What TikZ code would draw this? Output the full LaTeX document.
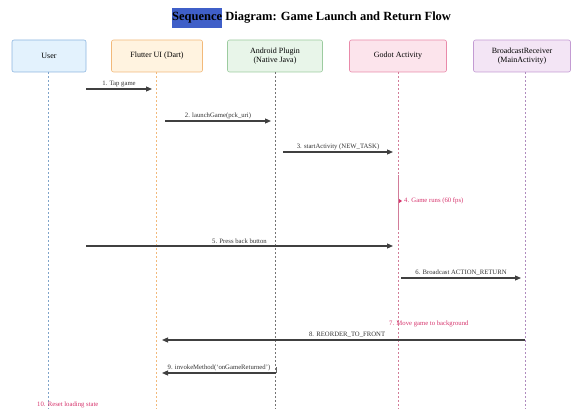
\documentclass[tikz,border=0pt]{standalone}
\usepackage{fontspec}
\setmainfont{Liberation Serif}
\usetikzlibrary{arrows.meta}
\definecolor{ublue}{HTML}{E3F2FD}\definecolor{ubluedk}{HTML}{8DB6E0}
\definecolor{forg}{HTML}{FFF3E0}\definecolor{forgdk}{HTML}{F2B97A}
\definecolor{agrn}{HTML}{E8F5E9}\definecolor{agrndk}{HTML}{9CCB9F}
\definecolor{gpnk}{HTML}{FCE4EC}\definecolor{gpnkdk}{HTML}{E98AAA}
\definecolor{bpur}{HTML}{F3E5F5}\definecolor{bpurdk}{HTML}{C39BD3}
\definecolor{notec}{HTML}{D6336C}
\definecolor{hl}{HTML}{3F5FC8}
\tikzset{
  part/.style={draw, rounded corners=2pt, line width=0.6pt, minimum height=32, align=center, font=\fontsize{8}{9.5}\selectfont, inner sep=1pt},
  life/.style={dashed, line width=0.8pt, dash pattern=on 2pt off 2pt},
  msg/.style={line width=1.1pt, draw=black!75, -{Triangle[length=6pt,width=5pt]}},
  lbl/.style={font=\fontsize{6.7}{7.5}\selectfont, text=black!80, inner sep=1pt},
  notet/.style={font=\fontsize{6.7}{7.5}\selectfont, text=notec, inner sep=1pt, anchor=west}
}
\begin{document}
\begin{tikzpicture}[x=1pt,y=-1pt]
\useasboundingbox (0,0) rectangle (576,409);
% title
\node[font=\bfseries\fontsize{12.5}{14}\selectfont, anchor=west, inner sep=0pt] (title) at (172,18)
  {\colorbox{hl}{\hspace{-3pt}\strut Sequence\hspace{-3pt}} Diagram: Game Launch and Return Flow};
% participants
\node[part, fill=ublue, draw=ubluedk, minimum width=74] (user) at (49,56) {User};
\node[part, fill=forg, draw=forgdk, minimum width=91] (flutter) at (157,56) {Flutter UI (Dart)};
\node[part, fill=agrn, draw=agrndk, minimum width=95] (android) at (275,56) {Android Plugin\\(Native Java)};
\node[part, fill=gpnk, draw=gpnkdk, minimum width=97] (godot) at (398,56) {Godot Activity};
\node[part, fill=bpur, draw=bpurdk, minimum width=97] (br) at (522,56) {BroadcastReceiver\\(MainActivity)};
% lifeline ends
\coordinate (userE) at (48,409);
\coordinate (flutterE) at (156,409);
\coordinate (androidE) at (275,409);
\coordinate (godotE) at (398,409);
\coordinate (brE) at (525,409);
\draw[life, draw=ubluedk!90!black] (user.south -| userE) -- (userE);
\draw[life, draw=forgdk] (flutter.south -| flutterE) -- (flutterE);
\draw[life, draw=black!55] (android.south -| androidE) -- (androidE);
\draw[life, draw=gpnkdk!90!black] (godot.south -| godotE) -- (godotE);
\draw[line width=0.8pt, draw=gpnkdk!90!black] (398,175) -- (398,228);
\draw[life, draw=bpurdk!90!black] (br.south -| brE) -- (brE);
% message endpoints
\coordinate (m1a) at (86,89);   \coordinate (m1b) at (152,89);
\coordinate (m2a) at (165,121); \coordinate (m2b) at (271,121);
\coordinate (m3a) at (283,152); \coordinate (m3b) at (393,152);
\coordinate (m5a) at (86,246);  \coordinate (m5b) at (393,246);
\coordinate (m6a) at (401,278); \coordinate (m6b) at (521,278);
\coordinate (m8a) at (525,340); \coordinate (m8b) at (162,340);
\coordinate (m9a) at (276,373); \coordinate (m9b) at (162,373);
\draw[msg] (m1a) -- node[lbl, above=1pt] (l1) {1. Tap game} (m1b);
\draw[msg] (m2a) -- node[lbl, above=1pt] (l2) {2. launchGame(pck\_uri)} (m2b);
\draw[msg] (m3a) -- node[lbl, above=1pt] (l3) {3. startActivity (NEW\_TASK)} (m3b);
\draw[msg] (m5a) -- node[lbl, above=1pt] (l5) {5. Press back button} (m5b);
\draw[msg] (m6a) -- node[lbl, above=1pt] (l6) {6. Broadcast ACTION\_RETURN} (m6b);
\draw[msg] (m8a) -- node[lbl, above=1pt, pos=0.49] (l8) {8. REORDER\_TO\_FRONT} (m8b);
\draw[msg] (m9a) -- node[lbl, above=1pt] (l9) {9. invokeMethod(`onGameReturned')} (m9b);
\draw[line width=0.8pt, draw=black!60] (m9a) -- ++(0,-6);
% notes
\coordinate (n4) at (399,201);
\coordinate (n7) at (388,324);
\coordinate (n10) at (36,405);
\fill[notec] (n4) ++(0,-2) -- ++(3,2) -- ++(-3,2) -- cycle;
\node[notet] (t4) at ([xshift=4pt]n4) {4. Game runs (60 fps)};
\node[notet] (t7) at (n7) {7. Move game to background};
\node[notet] (t10) at (n10) {10. Reset loading state};
\end{tikzpicture}
\end{document}
